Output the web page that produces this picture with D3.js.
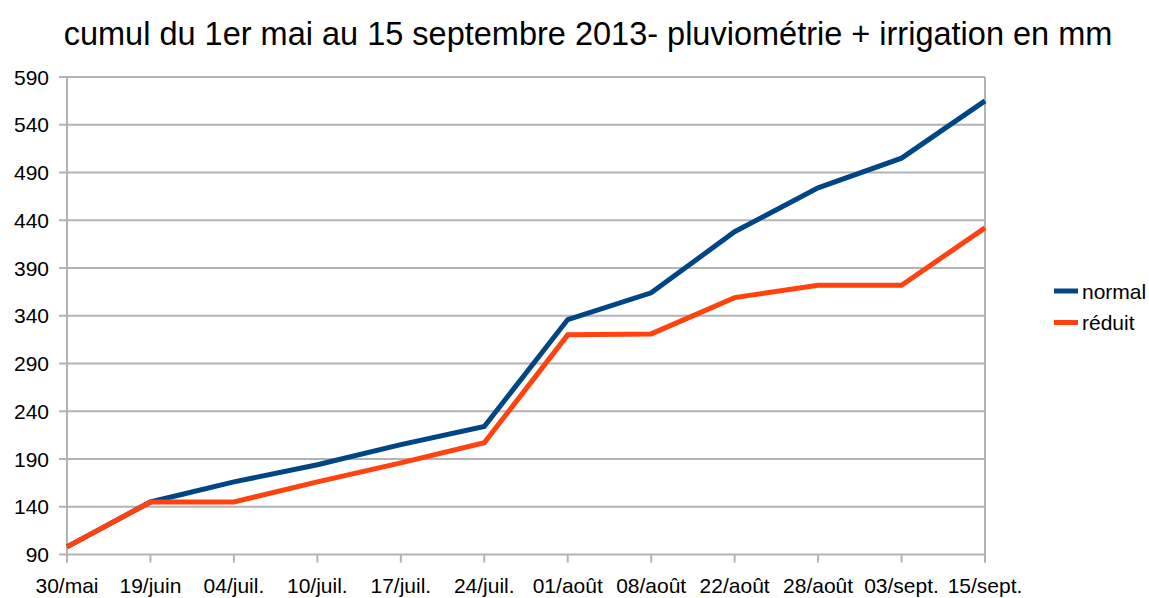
<!DOCTYPE html>
<html>
<head>
<meta charset="utf-8">
<script src="https://cdn.jsdelivr.net/npm/d3@7"></script>
<style>
  body { margin: 0; background: #fff; }
  text { font-family: "Liberation Sans", Arial, sans-serif; fill: #000; }
</style>
</head>
<body>
<div id="chart"></div>
<script>
// categories + series
const categories = ['30/mai', '19/juin', '04/juil.', '10/juil.', '17/juil.', '24/juil.',
  '01/août', '08/août', '22/août', '28/août', '03/sept.', '15/sept.'];
const normal = [98, 145, 166, 184, 205, 224, 336, 364, 428, 474, 505, 565];
const reduit = [98, 145, 145, 166, 186, 207, 320, 321, 359, 372, 372, 432];
const yTicks = [90, 140, 190, 240, 290, 340, 390, 440, 490, 540, 590];
const seriesNames = ['normal', 'réduit'];
const colors = ['#004586', '#ff420e'];

const width = 1149, height = 598;
const m = { left: 67, right: 985, top: 77, bottom: 554.5 };

const svg = d3.select('#chart').append('svg')
  .attr('width', width)
  .attr('height', height);

const x = d3.scalePoint().domain(categories).range([m.left, m.right]);
const y = d3.scaleLinear().domain([90, 590]).range([m.bottom, m.top]);

// title
svg.append('text')
  .attr('x', 588).attr('y', 45)
  .attr('text-anchor', 'middle')
  .style('font-size', '32.5px')
  .text('cumul du 1er mai au 15 septembre 2013- pluviométrie + irrigation en mm');

// grid + y axis
const grid = '#b3b3b3';
svg.append('g').selectAll('line')
  .data(yTicks)
  .enter().append('line')
  .attr('x1', m.left - 8).attr('x2', m.right)
  .attr('y1', d => y(d)).attr('y2', d => y(d))
  .style('stroke', grid).style('stroke-width', 2);

svg.append('g').selectAll('text')
  .data(yTicks)
  .enter().append('text')
  .attr('x', 49).attr('y', d => y(d) + 7.5)
  .attr('text-anchor', 'end')
  .style('font-size', '21px')
  .text(d => d);

// vertical borders
[m.left, m.right].forEach(function (px) {
  svg.append('line')
    .attr('x1', px).attr('x2', px)
    .attr('y1', m.top).attr('y2', m.bottom + 8)
    .style('stroke', grid).style('stroke-width', 2);
});

// x ticks + labels
svg.append('g').selectAll('line')
  .data(categories)
  .enter().append('line')
  .attr('x1', d => x(d)).attr('x2', d => x(d))
  .attr('y1', m.bottom).attr('y2', m.bottom + 8)
  .style('stroke', grid).style('stroke-width', 2);

svg.append('g').selectAll('text')
  .data(categories)
  .enter().append('text')
  .attr('x', d => x(d)).attr('y', 593)
  .attr('text-anchor', 'middle')
  .style('font-size', '21px')
  .text(d => d);

// lines
const line = d3.line()
  .x((d, i) => x(categories[i]))
  .y(d => y(d));

[normal, reduit].forEach(function (s, k) {
  svg.append('path')
    .datum(s)
    .attr('d', line)
    .style('fill', 'none')
    .style('stroke', colors[k])
    .style('stroke-width', 5)
    .style('stroke-linejoin', 'miter');
});

// legend
const lg = svg.append('g').selectAll('g')
  .data(seriesNames)
  .enter().append('g')
  .attr('transform', (d, i) => 'translate(1054,' + (291 + i * 31.5) + ')');

lg.append('line')
  .attr('x1', 0).attr('x2', 24)
  .style('stroke', (d, i) => colors[i])
  .style('stroke-width', 5);

lg.append('text')
  .attr('x', 28).attr('y', 7.5)
  .style('font-size', '21px')
  .text(d => d);
</script>
</body>
</html>
